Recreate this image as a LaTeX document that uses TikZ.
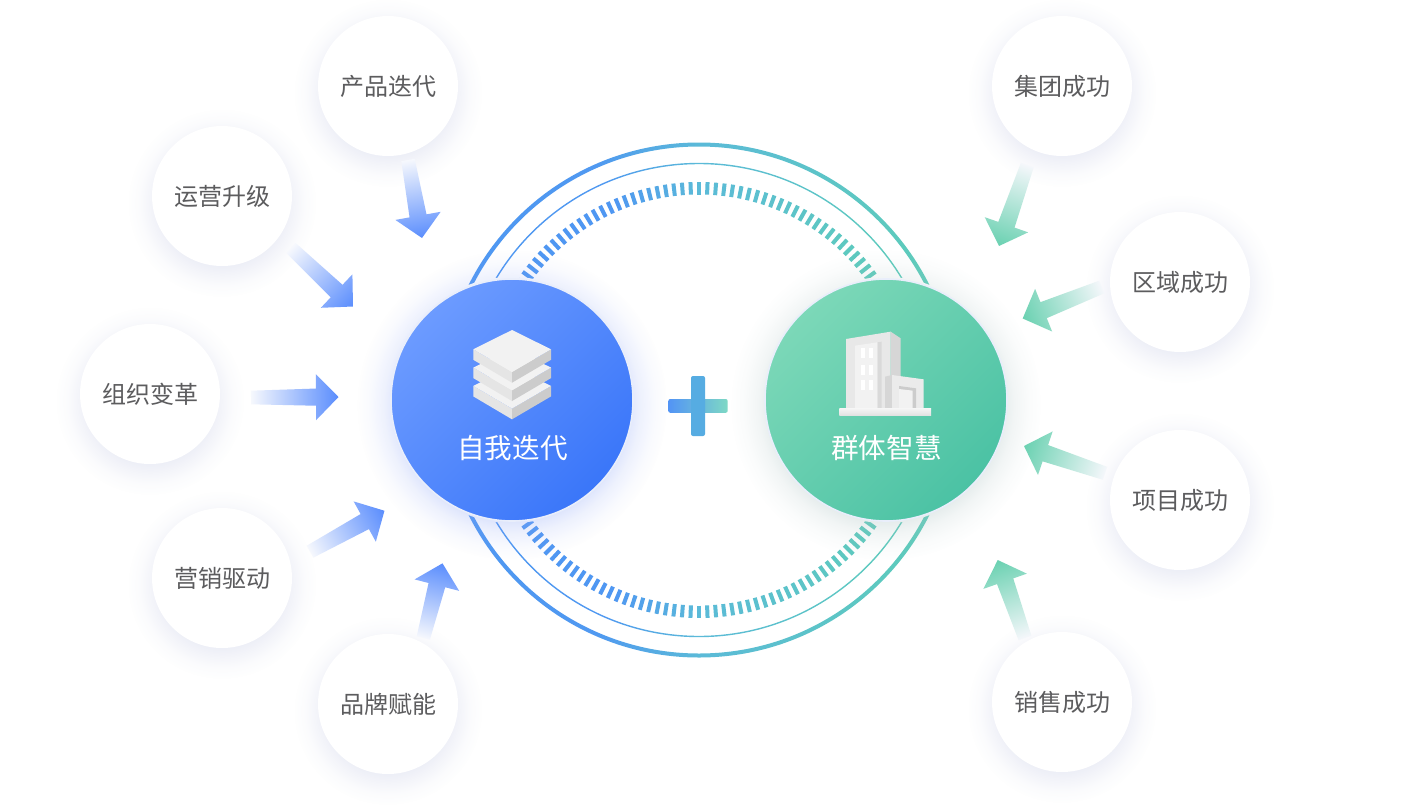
\documentclass[tikz,border=0pt]{standalone}
\usepackage{fontspec}
\usetikzlibrary{calc,fadings}
\setmainfont{Noto Sans CJK SC}
\definecolor{ringL}{HTML}{4F97F2}
\definecolor{ringM}{HTML}{5BBAD8}
\definecolor{ringR}{HTML}{5ECFB6}
\definecolor{txtgray}{HTML}{5C5C5E}
\definecolor{blueTip}{HTML}{5A8DFD}
\definecolor{blueTail}{HTML}{F6F8FD}
\definecolor{greenTip}{HTML}{6AD1B1}
\definecolor{greenTail}{HTML}{F5F7FB}
\definecolor{BigBlueA}{HTML}{6C9BFF}
\definecolor{BigBlueB}{HTML}{3A76F9}
\definecolor{BigGreenA}{HTML}{7CD8B8}
\definecolor{BigGreenB}{HTML}{4BC2A4}
\definecolor{BigEdge}{HTML}{E9EEFB}
\definecolor{ShadowSmall}{HTML}{A8B0D8}
\definecolor{ShadowBlue}{HTML}{8EA6F7}
\definecolor{ShadowGreen}{HTML}{A8C0C0}
\pgfdeclarehorizontalshading{ringshade}{100bp}{
  color(0bp)=(ringL); color(25bp)=(ringL); color(40bp)=(ringL!95!ringM);
  color(50bp)=(ringM); color(75bp)=(ringR); color(100bp)=(ringR)}
\pgfdeclareradialshading{smallglowshade}{\pgfpointorigin}{
  color(0bp)=(pgftransparent!78); color(16bp)=(pgftransparent!78);
  color(19bp)=(pgftransparent!87); color(22bp)=(pgftransparent!96);
  color(25bp)=(pgftransparent!100); color(100bp)=(pgftransparent!100)}
\pgfdeclarefading{smallglow}{\pgfuseshading{smallglowshade}}
\pgfdeclareradialshading{bigglowshade}{\pgfpointorigin}{
  color(0bp)=(pgftransparent!70); color(18.5bp)=(pgftransparent!70);
  color(20.6bp)=(pgftransparent!85); color(22.9bp)=(pgftransparent!95);
  color(25bp)=(pgftransparent!100); color(100bp)=(pgftransparent!100)}
\pgfdeclarefading{bigglow}{\pgfuseshading{bigglowshade}}
\tikzset{
  smallc/.style={circle,fill=white,minimum size=140pt,inner sep=0pt,text=txtgray,font=\fontsize{24}{26}\selectfont},
  bigtext/.style={text=white,inner sep=0pt,font=\fontsize{27.6}{30}\selectfont},
  blueflow/.style={left color=blueTail,middle color=blueTail!70!blueTip,right color=blueTip},
  greenflow/.style={left color=greenTail,middle color=greenTail!70!greenTip,right color=greenTip},
  bluec/.style={circle,minimum size=242pt,inner sep=0pt,left color=BigBlueA,right color=BigBlueB,shading angle=45,draw=BigEdge,line width=1.6pt},
  greenc/.style={circle,minimum size=242pt,inner sep=0pt,left color=BigGreenA,right color=BigGreenB,shading angle=45,draw=BigEdge,line width=1.6pt},
  tickmark/.style={line width=4pt},
}
\newcommand\flowarrow[3]{%
  \path (#1); \pgfgetlastxy{\fxa}{\fya}%
  \path (#2); \pgfgetlastxy{\fxb}{\fyb}%
  \pgfmathsetmacro\flowang{atan2(\fyb-\fya,\fxb-\fxa)}%
  \pgfmathsetmacro\flowlen{veclen(\fxb-\fxa,\fyb-\fya)}%
  \pgfmathsetmacro\flowbk{\flowlen-22.5}%
  \shade[#3,transform canvas={shift={(\fxa,\fya)},rotate=\flowang}]
    (0,-6.8)--(\flowbk,-8.6)--(\flowbk,-23)--(\flowlen,0)--(\flowbk,23)--(\flowbk,8.6)--(0,6.8)--cycle;
}
\begin{document}
\begin{tikzpicture}[x=1pt,y=-1pt]
\useasboundingbox (0,0) rectangle (1424,806);
\fill[white] (0,0) rectangle (1424,806);
\coordinate (ctr) at (699,400);
% rings
\shade[shading=ringshade,even odd rule]
  (ctr) circle[radius=257.5] (ctr) circle[radius=253.5];
\shade[shading=ringshade,even odd rule]
  (ctr) circle[radius=237.2] (ctr) circle[radius=235.8];
\foreach \k in {0,...,159}{
  \pgfmathsetmacro\ta{\k*2.25}
  \pgfmathsetmacro\tp{50+50*cos(\ta)}
  \pgfmathparse{\tp<30?0:(\tp<50?1:2)}
  \pgfmathtruncatemacro\tz{\pgfmathresult}
  \ifcase\tz
    \colorlet{tickc}{ringL}
  \or
    \pgfmathsetmacro\tq{(\tp-30)*5}
    \colorlet{tickc}{ringM!\tq!ringL}
  \else
    \pgfmathsetmacro\tq{(\tp-50)*2}
    \colorlet{tickc}{ringR!\tq!ringM}
  \fi
  \draw[tickmark,tickc] ($(ctr)+(\ta:205.5)$) -- ($(ctr)+(\ta:218)$);
}
% halos that cut the rings
\fill[white] (512,400) circle[radius=123];
\fill[white] (886,400) circle[radius=123];
% shadows
\fill[ShadowBlue,path fading=bigglow,fit fading=true] (512,405) circle[radius=155];
\fill[ShadowGreen,path fading=bigglow,fit fading=true] (886,405) circle[radius=155];
\foreach \px/\py in {388/86,222/196,150/394,222/578,388/704,1062/86,1180/282,1180/500,1062/702}{
  \fill[ShadowSmall,path fading=smallglow,fit fading=true] (\px,\py+7) circle[radius=94];
}
% small nodes
\node[smallc] (n1) at (388,86) {产品迭代};
\node[smallc] (n2) at (222,196) {运营升级};
\node[smallc] (n3) at (150,394) {组织变革};
\node[smallc] (n4) at (222,578) {营销驱动};
\node[smallc] (n5) at (388,704) {品牌赋能};
\node[smallc] (n6) at (1062,86) {集团成功};
\node[smallc] (n7) at (1180,282) {区域成功};
\node[smallc] (n8) at (1180,500) {项目成功};
\node[smallc] (n9) at (1062,702) {销售成功};
% big nodes
\node[bluec] (self) at (512,400) {};
\node[greenc] (group) at (886,400) {};
\node[bigtext] (selft) at (512.5,448) {自我迭代};
\node[bigtext] (groupt) at (886.5,448) {群体智慧};
% arrows
\coordinate (a1s) at (408,160);     \coordinate (a1e) at (422,238);
\coordinate (a2s) at (291,248);     \coordinate (a2e) at (353,306.5);
\coordinate (a3s) at (251,397.5);   \coordinate (a3e) at (338.5,397);
\coordinate (a4s) at (310,551.7);   \coordinate (a4e) at (384.5,510.7);
\coordinate (a5s) at (423.3,638);   \coordinate (a5e) at (442.5,563.3);
\coordinate (a6s) at (1027.3,165);  \coordinate (a6e) at (999,246);
\coordinate (a7s) at (1101.7,287);  \coordinate (a7e) at (1022.7,318.5);
\coordinate (a8s) at (1105,473.3);  \coordinate (a8e) at (1024,446);
\coordinate (a9s) at (1025,638);    \coordinate (a9e) at (997.7,560);
\flowarrow{a1s}{a1e}{blueflow}
\flowarrow{a2s}{a2e}{blueflow}
\flowarrow{a3s}{a3e}{blueflow}
\flowarrow{a4s}{a4e}{blueflow}
\flowarrow{a5s}{a5e}{blueflow}
\flowarrow{a6s}{a6e}{greenflow}
\flowarrow{a7s}{a7e}{greenflow}
\flowarrow{a8s}{a8e}{greenflow}
\flowarrow{a9s}{a9e}{greenflow}
% plus
\shade[left color=ringL!70!blueTip,middle color=ringM,right color=ringR!80!white,rounded corners=2pt]
  (668.3,399) rectangle (727.7,412.8);
\fill[ringM!60!ringL,rounded corners=2pt] (691,376) rectangle (705,436);
% layers icon
\foreach \dy in {36.6,18.3,0}{
  \begin{scope}[shift={(0,\dy)}]
    \fill[black!10] (473.3,349.3) -- (512,372) -- (512,382.7) -- (473.3,359.8) -- cycle;
    \fill[black!20] (551,349.3) -- (512,372) -- (512,382.7) -- (551,359.8) -- cycle;
    \fill[black!5] (512,330) -- (551,349.3) -- (512,372) -- (473.3,349.3) -- cycle;
  \end{scope}
}
% building icon
\begin{scope}[shift={(830,325)},x=0.3333pt,y=-0.3333pt]
  \fill[black!16] (182,20) -- (212,40) -- (212,250) -- (182,250) -- cycle;
  \fill[black!9] (48,42) -- (182,20) -- (182,250) -- (48,250) -- cycle;
  \fill[black!15] (142,52) -- (155,50) -- (155,250) -- (142,250) -- cycle;
  \fill[black!5] (75,62) -- (142,52) -- (142,250) -- (75,250) -- cycle;
  \foreach \wy in {70,120,166}{
    \fill[white] (93,\wy) rectangle (105,\wy+30);
    \fill[white] (117,\wy) rectangle (129,\wy+30);
  }
  \fill[black!16] (165,155) -- (186,150) -- (186,250) -- (165,250) -- cycle;
  \fill[black!8] (186,150) -- (281,163) -- (281,250) -- (186,250) -- cycle;
  \fill[black!20] (207,183) -- (258,190) -- (258,250) -- (207,250) -- cycle;
  \fill[black!5] (207,192) -- (248,197) -- (248,250) -- (207,250) -- cycle;
  \shade[top color=black!4,bottom color=black!12] (28,250) rectangle (303,272);
\end{scope}
\end{tikzpicture}
\end{document}
